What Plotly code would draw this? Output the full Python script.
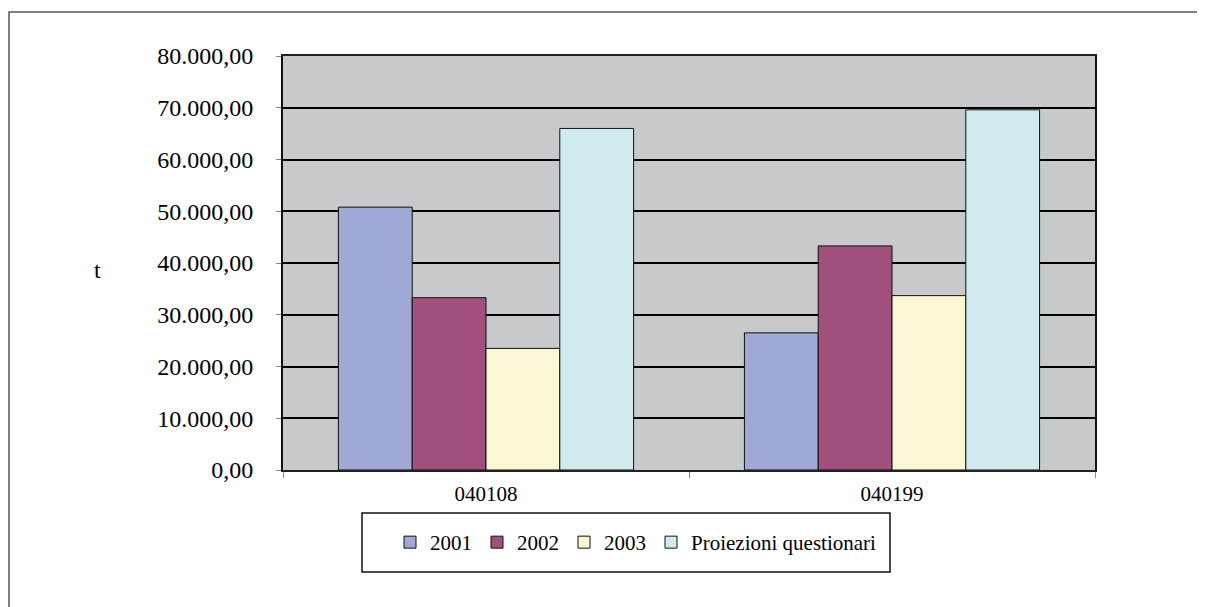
import plotly.graph_objects as go

categories = ["040108", "040199"]
series_names = ["2001", "2002", "2003", "Proiezioni questionari"]
values_2001 = [50800, 26500]
values_2002 = [33300, 43300]
values_2003 = [23500, 33700]
values_proiezioni = [66000, 69600]
colors = ["#A0A8D6", "#A1507D", "#FAF7D2", "#CFEBF0"]

all_values = [values_2001, values_2002, values_2003, values_proiezioni]

OFF = 8  # page offset of the figure inside the browser window
W, H = 1205 - OFF, 607 - OFF
# plot area in screen pixels: x 283..1095, y 56..470
L = 283 - OFF
R = W - (1095 - OFF)
T = 56 - OFF
B = H - (470 - OFF)
pw = W - L - R
ph = H - T - B

def px_x(x):
    return (x - OFF - L) / pw

def px_y(y):
    return (H - B - (y - OFF)) / ph

fig = go.Figure()
for name, vals, col in zip(series_names, all_values, colors):
    fig.add_trace(go.Bar(
        x=categories, y=vals, name=name,
        marker=dict(color=col, line=dict(color="#111111", width=1)),
    ))

font_family = "Times New Roman, Liberation Serif, Tinos, DejaVu Serif, serif"

fig.update_layout(
    width=W, height=H,
    margin=dict(l=L, r=R, t=T, b=B, pad=0),
    paper_bgcolor="white",
    plot_bgcolor="#C8C9CB",
    barmode="group",
    bargap=0.273,
    bargroupgap=0,
    separators=",.",
    font=dict(family=font_family, size=21, color="black"),
    showlegend=True,
    legend=dict(
        orientation="h",
        x=px_x(390), xanchor="left",
        y=px_y(542.5), yanchor="middle",
        bgcolor="rgba(0,0,0,0)",
        borderwidth=0,
        font=dict(family=font_family, size=21, color="black"),
        itemwidth=30,
        traceorder="normal",
    ),
    xaxis=dict(
        type="category",
        showline=True, linecolor="#222222", linewidth=1.5, mirror=True,
        ticks="outside", tickson="boundaries", ticklen=6, tickcolor="#888888",
        showgrid=False,
        ticklabelstandoff=4,
        tickfont=dict(family=font_family, size=21, color="black"),
    ),
    yaxis=dict(
        range=[0, 80000], dtick=10000, tickformat=",.2f",
        showline=True, linecolor="#111111", linewidth=2, mirror=True,
        ticks="outside", ticklen=5, tickcolor="#888888",
        showgrid=True, gridcolor="#000000", gridwidth=1.5,
        zeroline=False,
        ticklabelstandoff=18,
        tickfont=dict(family=font_family, size=24, color="black"),
    ),
    shapes=[
        dict(type="rect", xref="paper", yref="paper",
             x0=px_x(9), x1=px_x(1240), y0=px_y(650), y1=px_y(12),
             line=dict(color="#555555", width=1.5), fillcolor="rgba(0,0,0,0)", layer="below"),
        dict(type="rect", xref="paper", yref="paper",
             x0=px_x(362), x1=px_x(890), y0=px_y(572), y1=px_y(513),
             line=dict(color="#111111", width=1.5), fillcolor="rgba(0,0,0,0)"),
    ],
    annotations=[
        dict(text="t", xref="paper", yref="paper", x=px_x(97), y=px_y(270),
             xanchor="center", yanchor="middle", showarrow=False,
             font=dict(family=font_family, size=24, color="black")),
    ],
)

fig.write_html("out.html")
